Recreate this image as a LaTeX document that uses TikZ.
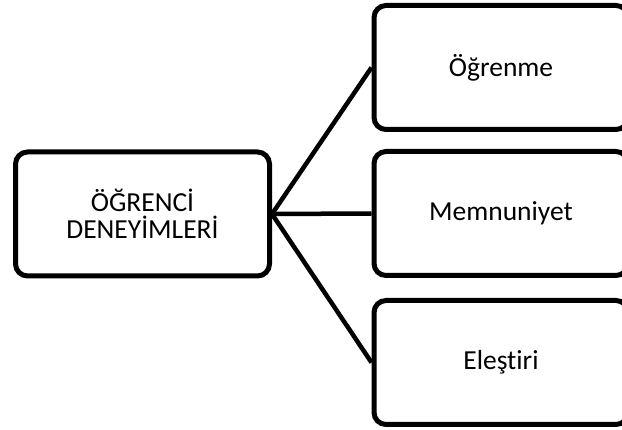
\documentclass[tikz,border=0pt]{standalone}
\usepackage{fontspec}
\setmainfont{Carlito}[Ligatures={NoCommon}]
\tikzset{
  box/.style={draw=black, line width=5pt, rounded corners=12pt, fill=white,
    minimum width=254pt, minimum height=124pt, align=center, inner sep=0pt,
    font=\fontsize{27.5}{27}\selectfont},
  link/.style={draw=black, line width=4.5pt}
}
\begin{document}
\begin{tikzpicture}[x=1pt,y=-1pt]
\clip (0,0) rectangle (622,430);
\fill[white] (0,0) rectangle (622,430);
\node[box] (L) at (142.5,214) {ÖĞRENCİ\\DENEYİMLERİ};
\node[box] (A) at (501,67.5) {Öğrenme};
\node[box] (B) at (501,213.5) {Memnuniyet};
\node[box] (C) at (501,362.5) {Eleştiri};
\draw[link] (L.east) -- (A.west);
\draw[link] (L.east) -- (B.west);
\draw[link] (L.east) -- (C.west);
\end{tikzpicture}
\end{document}
